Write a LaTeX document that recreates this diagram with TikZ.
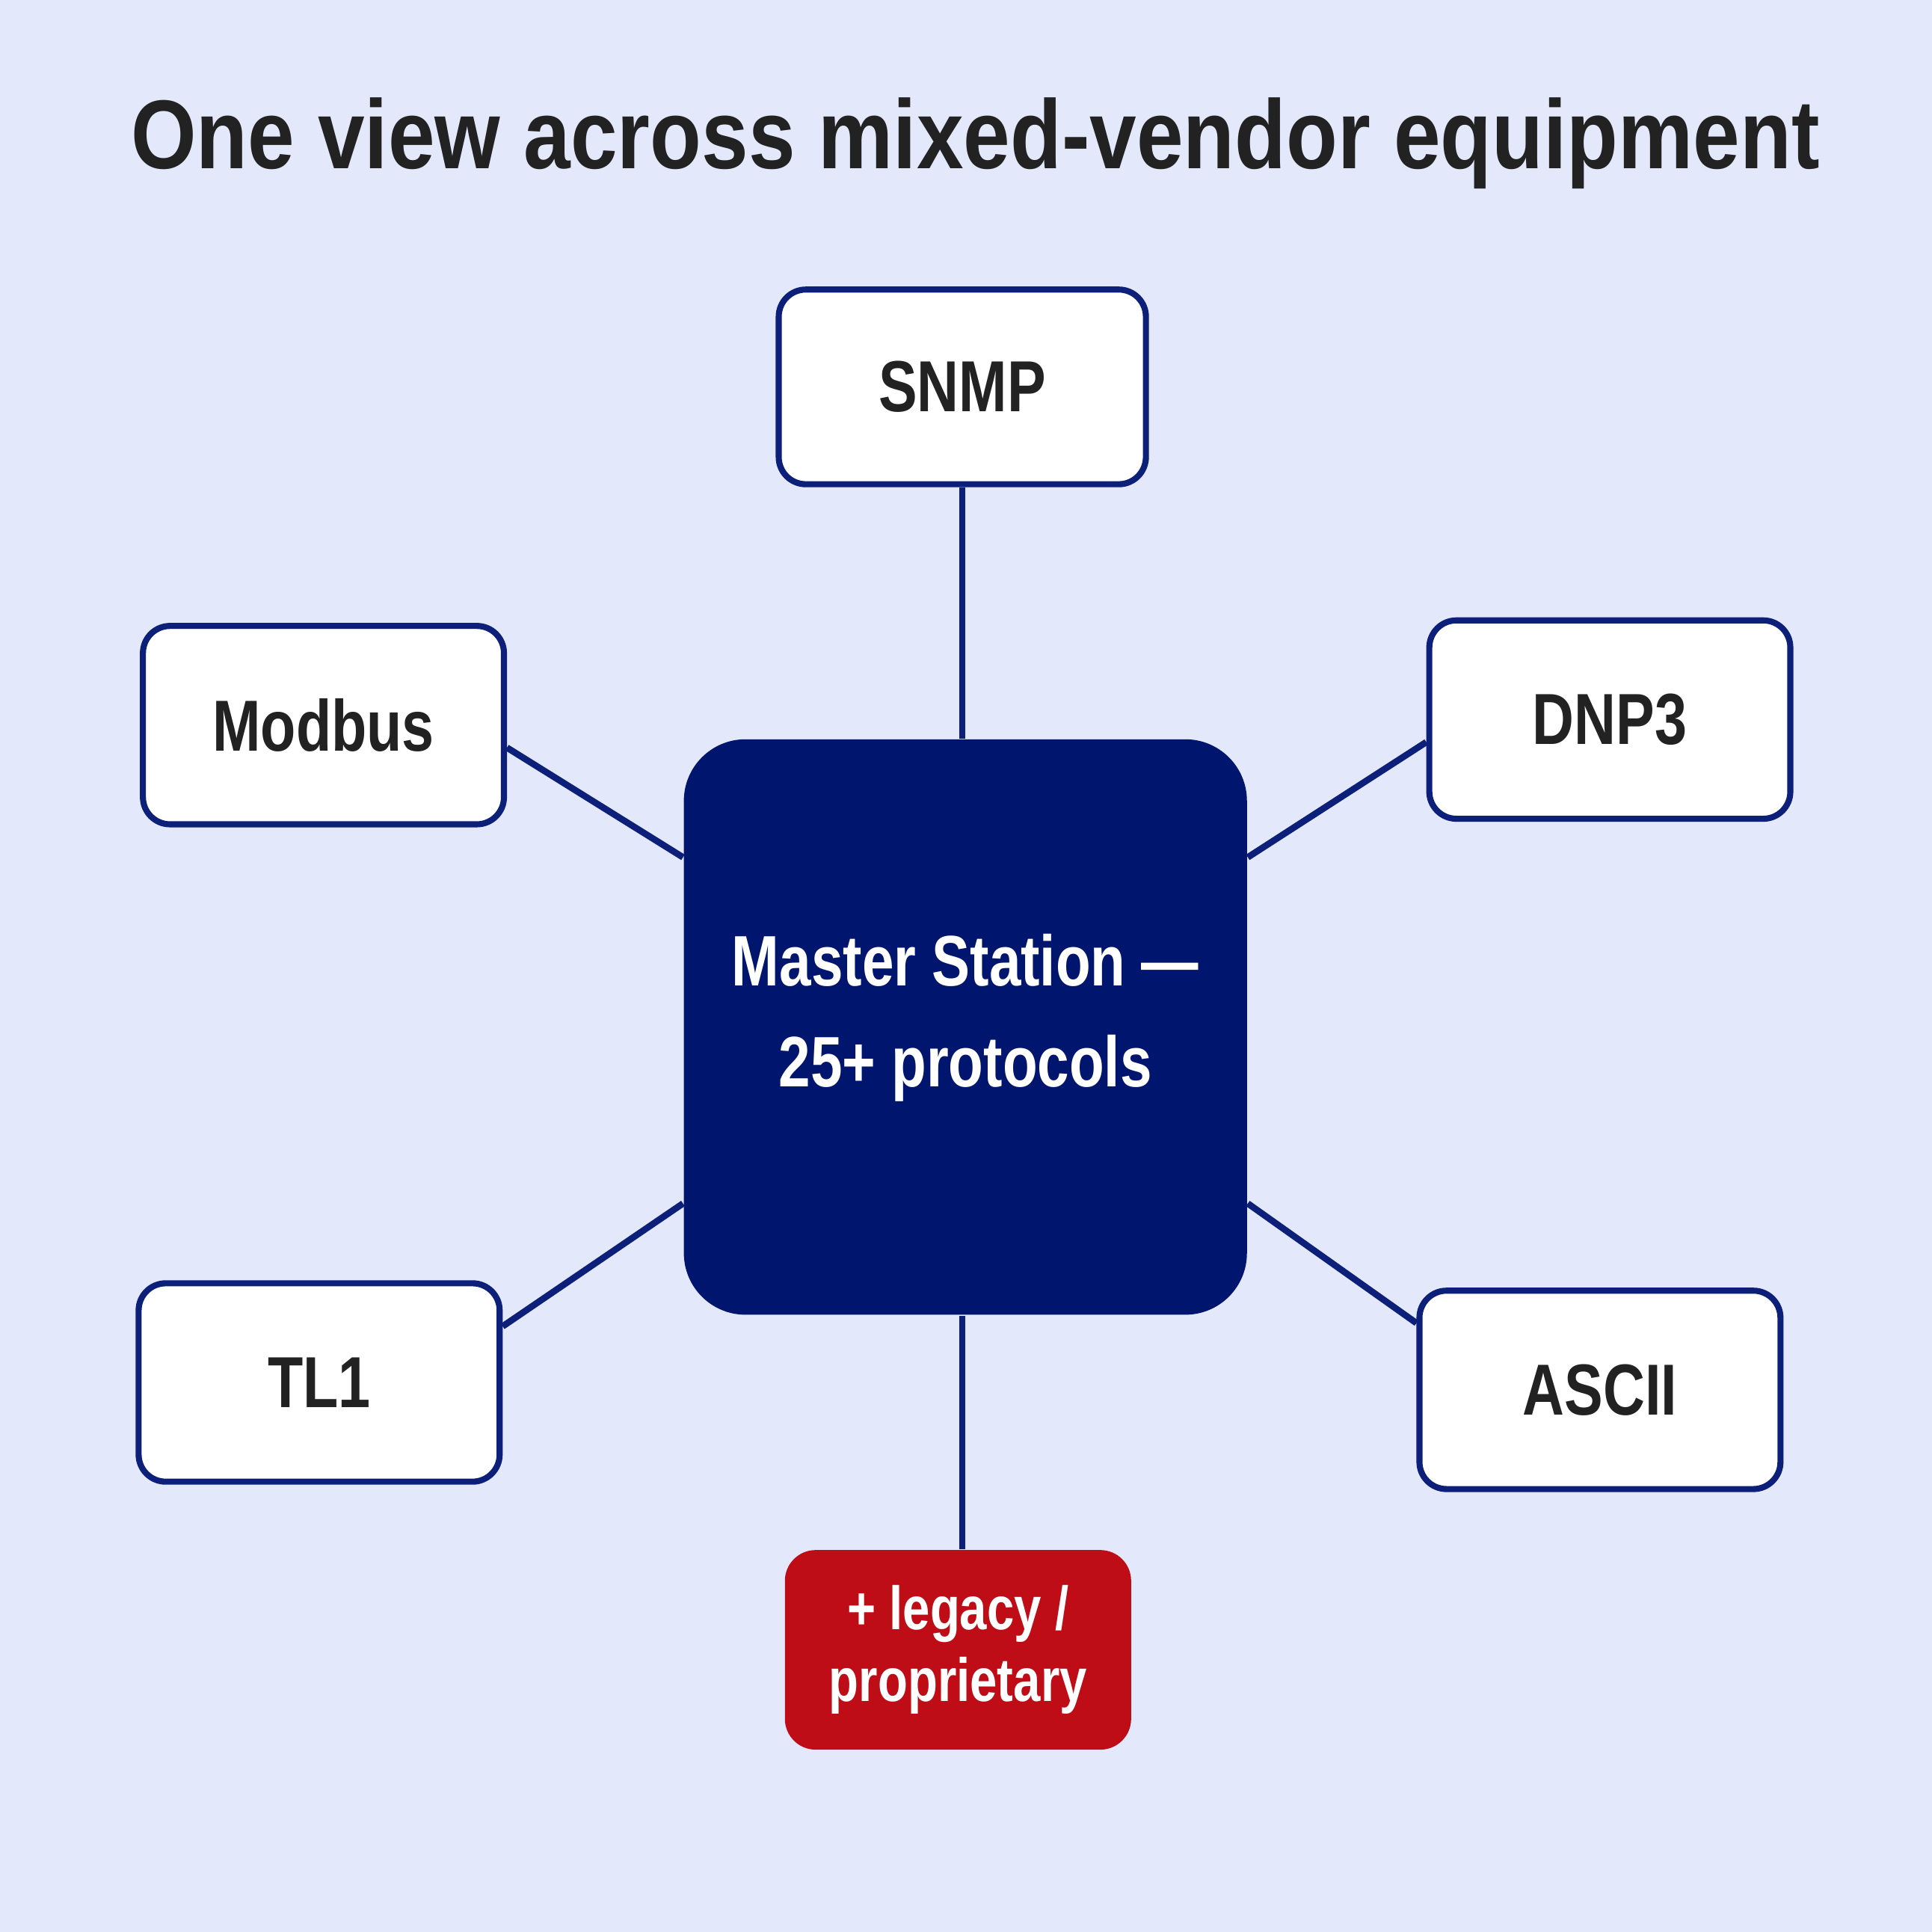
\documentclass[tikz,border=0pt]{standalone}
\usepackage{fontspec}
\setmainfont{Liberation Sans}
\newfontfamily\titlefont[FakeStretch=0.86]{Liberation Sans}
\newfontfamily\boxfont[FakeStretch=0.8]{Liberation Sans}
\usetikzlibrary{ positioning, % For easy node-relative placements
               }
\definecolor{bgcol}{RGB}{227,232,251}
\definecolor{navy}{RGB}{0,22,110}
\definecolor{linecol}{RGB}{12,32,122}
\definecolor{legacyred}{RGB}{190,13,22}
\definecolor{ink}{RGB}{34,34,34}
\tikzstyle{proto} = [rectangle, rounded corners=0.22cm, draw=linecol, line width=1.4pt,
                     fill=white, minimum width=2.93cm, minimum height=1.61cm, text=ink,
                     font=\boxfont\bfseries\fontsize{16.7}{20}\selectfont]
\tikzstyle{hub} = [rectangle, rounded corners=0.5cm, fill=navy, text=white, align=center,
                   minimum width=4.57cm, minimum height=4.67cm, text depth=0.27cm,
                   font=\boxfont\bfseries\fontsize{16.5}{23.3}\selectfont]
\tikzstyle{extra} = [rectangle, rounded corners=0.25cm, fill=legacyred, text=white, align=center,
                     minimum width=2.81cm, minimum height=1.62cm,
                     font=\boxfont\bfseries\fontsize{14.1}{16.5}\selectfont]
\tikzstyle{link} = [draw=linecol, line width=1.5pt]

\begin{document}
\begin{tikzpicture}
  \fill [bgcol] (0, 0) rectangle (15.68, -15.68);
  \node (title) [anchor=base, text=ink, font=\titlefont\bfseries\fontsize{22.6}{27}\selectfont]
    at (7.915, -1.37) {One view across mixed-vendor equipment};
  % hub and protocols
  \node (master) [hub] at (7.835, -8.335) {Master Station —\\25+ protocols};
  \node (snmp) [proto, minimum width=2.98cm, minimum height=1.58cm] at (7.81, -3.14) {SNMP};
  \node (modbus) [proto] at (2.625, -5.885) {Modbus};
  \node (dnp3) [proto] at (13.065, -5.84) {DNP3};
  \node (tl1) [proto] at (2.59, -11.22) {TL1};
  \node (ascii) [proto] at (12.985, -11.28) {ASCII};
  \node (legacy) [extra] at (7.775, -13.39) {+ legacy /\\proprietary};
  % connectors
  \draw [link] (snmp.south) -- (snmp.south |- master.north);
  \draw [link] (modbus.-7) -- (master.149);
  \draw [link] (dnp3.-173) -- (master.31);
  \draw [link] (tl1.17) -- (master.-148);
  \draw [link] (ascii.160) -- (master.-32);
  \draw [link] (snmp.south |- master.south) -- (snmp.south |- legacy.north);
\end{tikzpicture}
\end{document}
